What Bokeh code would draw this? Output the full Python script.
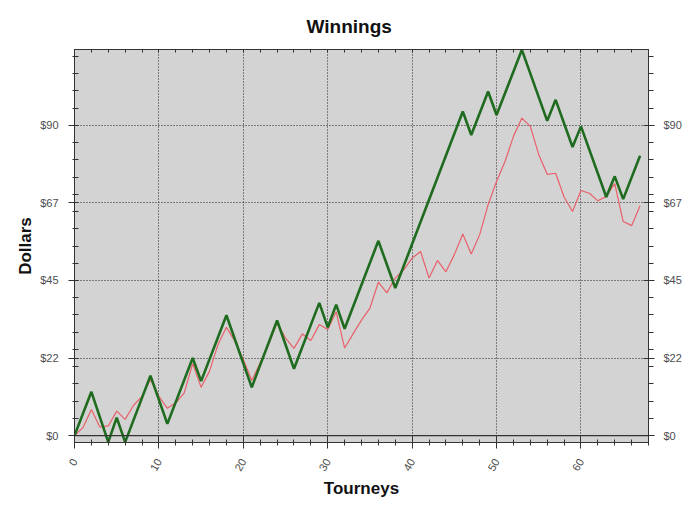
import math
from bokeh.plotting import figure
from bokeh.models import Range1d, LinearAxis, FixedTicker, Span
from bokeh.embed import file_html
from bokeh.resources import INLINE

# ---- data ----
# green series: turning points (tourney, dollars)
green_tourney = [0, 2, 4, 5, 6, 9, 11, 14, 15, 18, 21, 24, 26, 29, 30, 31, 32, 36, 38,
                 46, 47, 49, 50, 53, 56, 57, 59, 60, 63, 64, 65, 67]
green_dollars = [0, 12.7, -1.9, 5.2, -1.9, 17.4, 3.4, 22.5, 15.8, 34.9, 14, 33.4, 19.4,
                 38.5, 31.4, 38, 31, 56.5, 42.8, 94, 87.2, 99.8, 93, 111.9, 91.3, 97.4,
                 83.7, 89.7, 69.2, 75.2, 68.6, 81.2]

# red series: one value per tourney 0..67
red_dollars = [0, 2.3, 7.6, 2.5, 2.8, 7.1, 4.7, 8.8, 11.4, 16.3,
               11.4, 7.9, 9.5, 12.4, 20.9, 14, 18.7, 26.4, 31.4, 27.4,
               22.1, 16, 21.1, 26.4, 32.7, 28.3, 25.3, 29.5, 27.6, 32.2,
               30.8, 35.9, 25.4, 29.5, 33.5, 37, 44.5, 41.4, 45.7, 48.1,
               51.5, 53.4, 45.7, 50.8, 47.5, 52.5, 58.5, 52.7, 58.3, 67,
               73.7, 79.5, 86.8, 92.1, 89.7, 81.5, 75.8, 76.1, 69.2, 65,
               71.1, 70.3, 68.1, 69.4, 73.1, 62.1, 60.9, 66.7]
red_tourney = list(range(len(red_dollars)))

x_ticks = [0, 10, 20, 30, 40, 50, 60]
y_ticks = [0, 22.5, 45, 67.5, 90]
y_tick_labels = ["$0", "$22", "$45", "$67", "$90"]

# ---- figure ----
FONT = "Liberation Sans"
p = figure(width=684, height=501,
           x_range=Range1d(0, 68), y_range=Range1d(-2, 112),
           output_backend="svg", toolbar_location=None,
           min_border_left=74, min_border_right=32, min_border_top=49, min_border_bottom=59,
           background_fill_color="#d3d3d3", border_fill_color="white",
           outline_line_color="#222222", outline_line_width=1,
           x_axis_label="Tourneys", y_axis_label="Dollars")

p.title.text = "Winnings"
p.title.text_font = FONT
p.title.text_font_size = "19px"
p.title.text_font_style = "bold"
p.title.text_color = "#111111"
p.title.align = "left"
p.title.offset = 232
p.title.standoff = 25

x_ticker = FixedTicker(ticks=x_ticks, minor_ticks=list(range(0, 69, 2)))
y_ticker = FixedTicker(ticks=y_ticks, minor_ticks=list(range(0, 113, 5)))
y_over = {t: l for t, l in zip(y_ticks, y_tick_labels)}


def style_axis(ax):
    ax.axis_line_color = "#333333"
    ax.major_tick_line_color = "#333333"
    ax.minor_tick_line_color = "#333333"
    ax.major_label_text_font = FONT
    ax.major_label_text_font_size = "11px"
    ax.major_label_text_color = "#4d4d4d"
    ax.axis_label_text_font = FONT
    ax.axis_label_text_font_size = "17px"
    ax.axis_label_text_font_style = "bold"
    ax.axis_label_text_color = "#111111"


# bottom axis
xa = p.xaxis[0]
xa.ticker = x_ticker
style_axis(xa)
xa.major_tick_in = 7
xa.major_tick_out = 6
xa.minor_tick_in = 3
xa.minor_tick_out = 3
xa.major_label_orientation = math.pi / 3
xa.major_label_standoff = 11
xa.axis_label_standoff = 2

# left axis
ya = p.yaxis[0]
ya.ticker = y_ticker
ya.major_label_overrides = y_over
style_axis(ya)
ya.major_tick_in = 4
ya.major_tick_out = 6
ya.minor_tick_in = 4
ya.minor_tick_out = 2
ya.major_label_standoff = 10
ya.axis_label_standoff = 2

# right axis
ra = LinearAxis(ticker=y_ticker, major_label_overrides=y_over)
style_axis(ra)
ra.major_tick_in = 5
ra.major_tick_out = 6
ra.minor_tick_in = 0
ra.minor_tick_out = 5
ra.major_label_standoff = 9
ra.axis_label_standoff = 0
p.add_layout(ra, "right")

# top axis (ticks only, no labels)
ta = LinearAxis(ticker=FixedTicker(ticks=[], minor_ticks=list(range(0, 69, 2))))
style_axis(ta)
ta.major_label_standoff = 0
ta.axis_label_standoff = 0
ta.major_tick_in = 0
ta.major_tick_out = 0
ta.minor_tick_in = 3
ta.minor_tick_out = 0
p.add_layout(ta, "above")

# grids
p.xgrid.ticker = FixedTicker(ticks=x_ticks[1:])
p.ygrid.ticker = FixedTicker(ticks=y_ticks[1:])
for g in (p.xgrid[0], p.ygrid[0]):
    g.grid_line_color = "#222222"
    g.grid_line_dash = "1 2"
    g.grid_line_width = 1

p.add_layout(Span(location=0, dimension="width", line_color="#333333", line_width=1.2))

p.line(red_tourney, red_dollars, line_color="#e8606a", line_width=1.2)
p.line(green_tourney, green_dollars, line_color="#1f6b1f", line_width=2.6)

open("out.html", "w").write(file_html(p, INLINE))
